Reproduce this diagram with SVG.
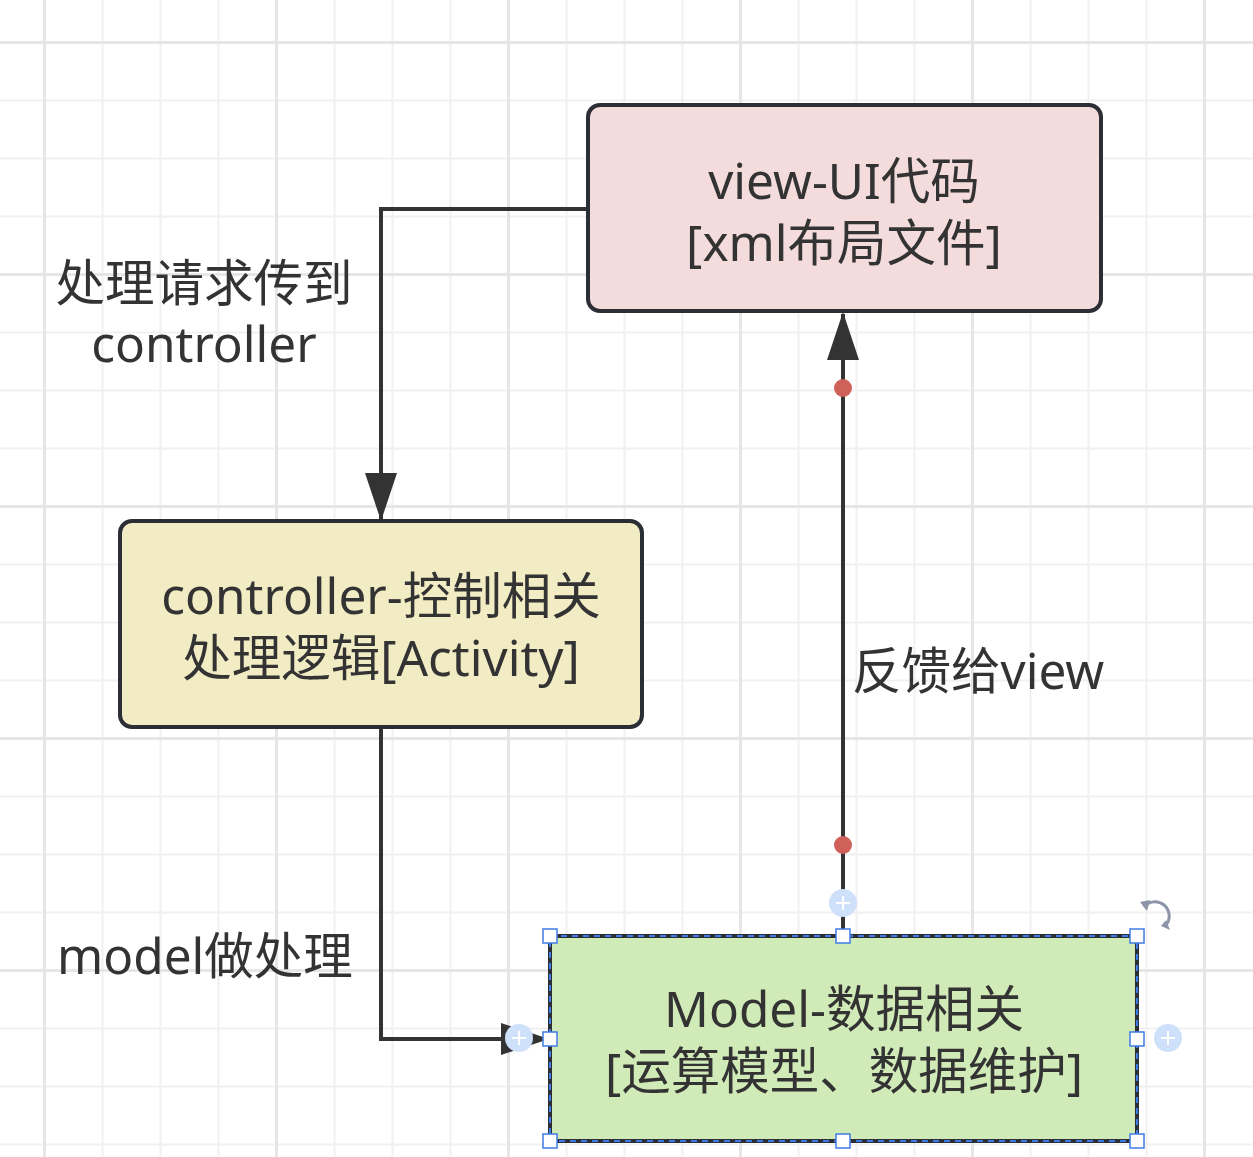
<svg xmlns="http://www.w3.org/2000/svg" width="1253" height="1157" viewBox="0 0 1253 1157">
<style>
.node{stroke:#2b2f35;stroke-width:4}
.t{font-family:"Noto Sans","Noto Sans CJK SC",sans-serif;font-size:49.5px;fill:#333;dominant-baseline:central}
.c{text-anchor:middle}
.edge{fill:none;stroke:#333;stroke-width:4}
.h{fill:#fff;stroke:#3f7be6;stroke-width:1.5}
.pc{fill:#cfe0fb}
.pl{stroke:#fff;stroke-width:2}
</style>
<defs>
<pattern id="minor" x="43.5" y="41.5" width="58" height="58" patternUnits="userSpaceOnUse">
<path d="M0 1H58M1 0V58" stroke="#f0f0f0" stroke-width="2"/>
</pattern>
<pattern id="major" x="43" y="41" width="232" height="232" patternUnits="userSpaceOnUse">
<path d="M0 1.5H232M1.5 0V232" stroke="#e6e6e6" stroke-width="3"/>
</pattern>
<marker id="arr" viewBox="0 0 48 32" refX="46" refY="16" markerWidth="48" markerHeight="32" markerUnits="userSpaceOnUse" orient="auto">
<path d="M0 0L48 16L0 32Z" fill="#333"/>
</marker>
</defs>
<rect width="1253" height="1157" fill="#fff"/>
<rect width="1253" height="1157" fill="url(#minor)"/>
<rect width="1253" height="1157" fill="url(#major)"/>

<g id="connectors">
<path class="edge" d="M588 209H381V519" marker-end="url(#arr)"/>
<path class="edge" d="M381 727V1039H547" marker-end="url(#arr)"/>
<path class="edge" d="M843 936V314" marker-end="url(#arr)"/>
<circle cx="843" cy="388" r="9" fill="#d0605a"/>
<circle cx="843" cy="845" r="9" fill="#d0605a"/>
</g>

<g id="view">
<rect class="node" x="588" y="105" width="513" height="206" rx="12" fill="#f4dcdd"/>
<text class="t c" x="844" y="180">view-UI代码</text>
<text class="t c" x="844" y="242">[xml布局文件]</text>
</g>

<g id="controller">
<rect class="node" x="120" y="521" width="522" height="206" rx="12" fill="#f2ecc4"/>
<text class="t c" x="381" y="595">controller-控制相关</text>
<text class="t c" x="381" y="657">处理逻辑[Activity]</text>
</g>

<g id="model">
<rect class="node" x="550" y="936" width="587" height="205" rx="8" fill="#d1ebb8"/>
<text class="t c" x="844" y="1008">Model-数据相关</text>
<text class="t c" x="844" y="1070">[运算模型、数据维护]</text>
</g>

<g id="labels">
<text class="t c" x="204" y="282">处理请求传到</text>
<text class="t c" x="204" y="343">controller</text>
<text class="t" x="852" y="670">反馈给view</text>
<text class="t" x="57" y="955">model做处理</text>
</g>

<g id="selection">
<rect x="550" y="936" width="587" height="205" fill="none" stroke="#3f7be6" stroke-width="2" stroke-dasharray="6 5"/>
<rect class="h" x="543" y="929" width="14" height="14"/>
<rect class="h" x="836" y="929" width="14" height="14"/>
<rect class="h" x="1130" y="929" width="14" height="14"/>
<rect class="h" x="543" y="1032" width="14" height="14"/>
<rect class="h" x="1130" y="1032" width="14" height="14"/>
<rect class="h" x="543" y="1134" width="14" height="14"/>
<rect class="h" x="836" y="1134" width="14" height="14"/>
<rect class="h" x="1130" y="1134" width="14" height="14"/>
<circle class="pc" cx="843" cy="903" r="14"/>
<path class="pl" d="M836 903H850M843 896V910"/>
<circle class="pc" cx="519" cy="1038" r="14"/>
<path class="pl" d="M512 1038H526M519 1031V1045"/>
<circle class="pc" cx="1168" cy="1038" r="14"/>
<path class="pl" d="M1161 1038H1175M1168 1031V1045"/>
<path d="M1144 907A12 12 0 0 1 1166 925" fill="none" stroke="#8c96a8" stroke-width="3"/>
<path d="M1140 902L1150 900L1147 911Z" fill="#8c96a8"/>
<path d="M1161 926L1170 930L1166 920Z" fill="#8c96a8"/>
</g>
</svg>
